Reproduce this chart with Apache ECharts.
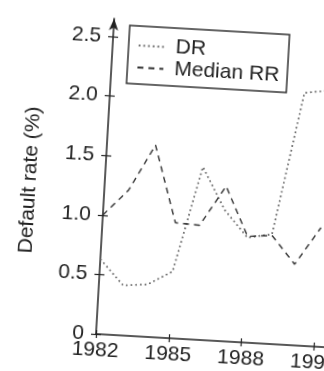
<!DOCTYPE html>
<html><head><meta charset="utf-8">
<script src="https://cdn.jsdelivr.net/npm/echarts@6/dist/echarts.min.js"></script>
<style>
html,body{margin:0;padding:0;overflow:hidden;background:#fff;width:324px;height:371px;}
#chart{position:absolute;left:0;top:0;width:460px;height:420px;transform-origin:96px 334px;transform:rotate(3.3deg);}
</style></head><body><div id="chart"></div>
<script>
// Data
const years = [1982, 1983, 1984, 1985, 1986, 1987, 1988, 1989, 1990, 1991];
const drValues = [0.63, 0.42, 0.44, 0.56, 1.45, 1.10, 0.88, 0.92, 2.12, 2.15];
const medianRRValues = [1.00, 1.22, 1.61, 0.97, 0.96, 1.30, 0.89, 0.91, 0.68, 1.00];
const seriesNames = ['DR', 'Median RR'];
const xTickValues = [1982, 1985, 1988, 1991];
const yTickValues = [0, 0.5, 1.0, 1.5, 2.0, 2.5];
const yAxisTitle = 'Default rate (%)';

const FONT = 'Liberation Sans';
const INK = '#222';
const pairs = vals => years.map((y, i) => [y, vals[i]]);

const chart = echarts.init(document.getElementById('chart'), null, {renderer: 'canvas'});
chart.setOption({
  backgroundColor: 'transparent',
  animation: false,
  grid: {left: 96, top: 18, bottom: 86, right: 24, containLabel: false},
  legend: {
    orient: 'vertical', left: 112, top: 24,
    padding: [9, 8, 6, 9], itemGap: 1, itemWidth: 26, itemHeight: 14,
    borderColor: '#333', borderWidth: 1.5,
    itemStyle: {color: 'transparent', borderWidth: 0, opacity: 0},
    textStyle: {fontFamily: FONT, fontSize: 21, color: INK, padding: [0, 0, 0, 6]},
    data: seriesNames
  },
  xAxis: [{
    type: 'value', min: 1982, max: 1996, interval: 3,
    axisLine: {show: true, lineStyle: {color: INK, width: 1.5}},
    axisTick: {show: true, length: 4, lineStyle: {color: INK, width: 1.2}, customValues: xTickValues},
    axisLabel: {fontFamily: FONT, fontSize: 21, color: INK, margin: 6, customValues: xTickValues,
      formatter: v => String(v)},
    splitLine: {show: false}
  }, {
    type: 'value', min: 1982, max: 1996, position: 'bottom',
    axisLine: {show: false},
    axisTick: {show: true, inside: true, length: 4, lineStyle: {color: INK, width: 1.2}, customValues: xTickValues},
    axisLabel: {show: false},
    splitLine: {show: false}
  }],
  yAxis: [{
    type: 'value', min: 0, max: 2.65,
    name: yAxisTitle, nameLocation: 'middle', nameGap: 64,
    nameTextStyle: {fontFamily: FONT, fontSize: 21, color: INK, padding: [0, 16, 0, 0]},
    axisLine: {show: true, symbol: ['none', 'arrow'], symbolSize: [7, 12], lineStyle: {color: INK, width: 1.5}},
    axisTick: {show: true, length: 5, lineStyle: {color: INK, width: 1.2}, customValues: yTickValues},
    axisLabel: {fontFamily: FONT, fontSize: 21, color: INK, margin: 12, customValues: yTickValues,
      formatter: v => v === 0 ? '0' : v.toFixed(1)},
    splitLine: {show: false}
  }, {
    type: 'value', min: 0, max: 2.65, position: 'left', offset: 0,
    axisLine: {show: false},
    axisTick: {show: true, inside: true, length: 5, lineStyle: {color: INK, width: 1.2}, customValues: yTickValues},
    axisLabel: {show: false},
    splitLine: {show: false}
  }],
  series: [{
    name: seriesNames[0], type: 'line', xAxisIndex: 0, yAxisIndex: 0,
    data: pairs(drValues), symbol: 'none',
    itemStyle: {color: '#666'},
    lineStyle: {color: '#666', width: 1.7, type: [1.7, 3]}
  }, {
    name: seriesNames[1], type: 'line', xAxisIndex: 0, yAxisIndex: 0,
    data: pairs(medianRRValues), symbol: 'none',
    itemStyle: {color: '#333'},
    lineStyle: {color: '#333', width: 1.4, type: [6, 5]}
  }]
});
</script></body></html>
